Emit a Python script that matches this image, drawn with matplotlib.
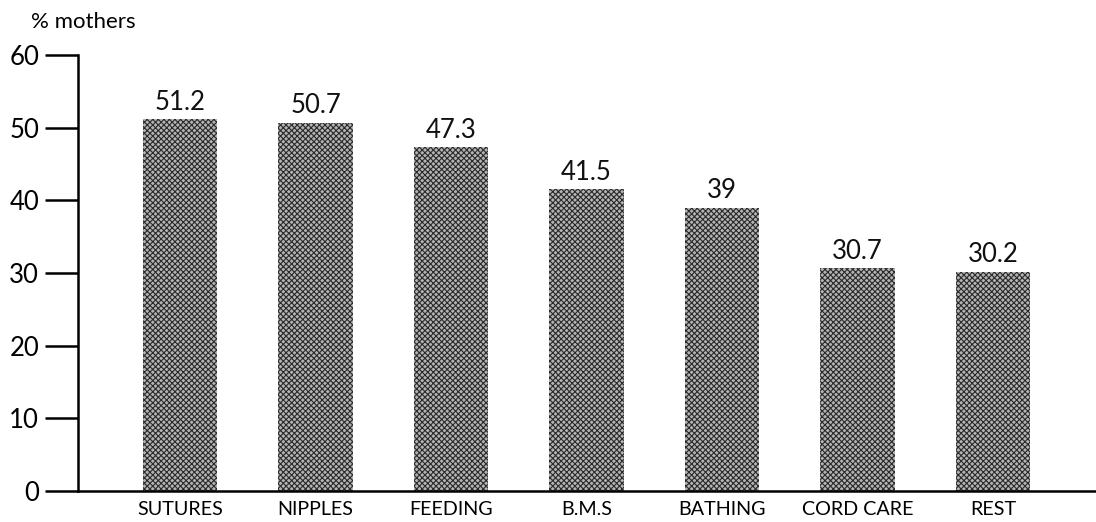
import matplotlib.pyplot as plt

categories = ["SUTURES", "NIPPLES", "FEEDING", "B.M.S", "BATHING", "CORD CARE", "REST"]
values = [51.2, 50.7, 47.3, 41.5, 39, 30.7, 30.2]
value_labels = ["51.2", "50.7", "47.3", "41.5", "39", "30.7", "30.2"]
yticks = [0, 10, 20, 30, 40, 50, 60]

plt.rcParams["font.family"] = ["Lato", "DejaVu Sans"]
plt.rcParams["hatch.linewidth"] = 0.8

fig = plt.figure(figsize=(10.96, 5.22), dpi=100)
ax = fig.add_axes([78 / 1096, 31 / 522, 1 - 78 / 1096, 436 / 522])

x = range(len(categories))
ax.bar(x, values, width=0.55, color="#b4b4b4", edgecolor="#2a2a2a",
       hatch="xxxxxx", linewidth=0)

for xi, v, lab in zip(x, values, value_labels):
    ax.text(xi, v + 0.6, lab, ha="center", va="bottom", fontsize=18.5, color="#111111")

ax.set_xlim(-0.753, 6.76)
ax.set_ylim(0, 60)
ax.set_yticks(yticks)
ax.set_xticks(list(x))
ax.set_xticklabels(categories, fontsize=14.2)
ax.tick_params(axis="x", length=0, pad=7)
ax.tick_params(axis="y", length=24, width=1.8, pad=4, labelsize=18.5)

for side in ["top", "right"]:
    ax.spines[side].set_visible(False)
for side in ["left", "bottom"]:
    ax.spines[side].set_linewidth(1.8)

fig.text(31 / 1096, 1 - 22 / 522, "% mothers", fontsize=16, va="center", ha="left")

fig.savefig("out.png", dpi=100)
